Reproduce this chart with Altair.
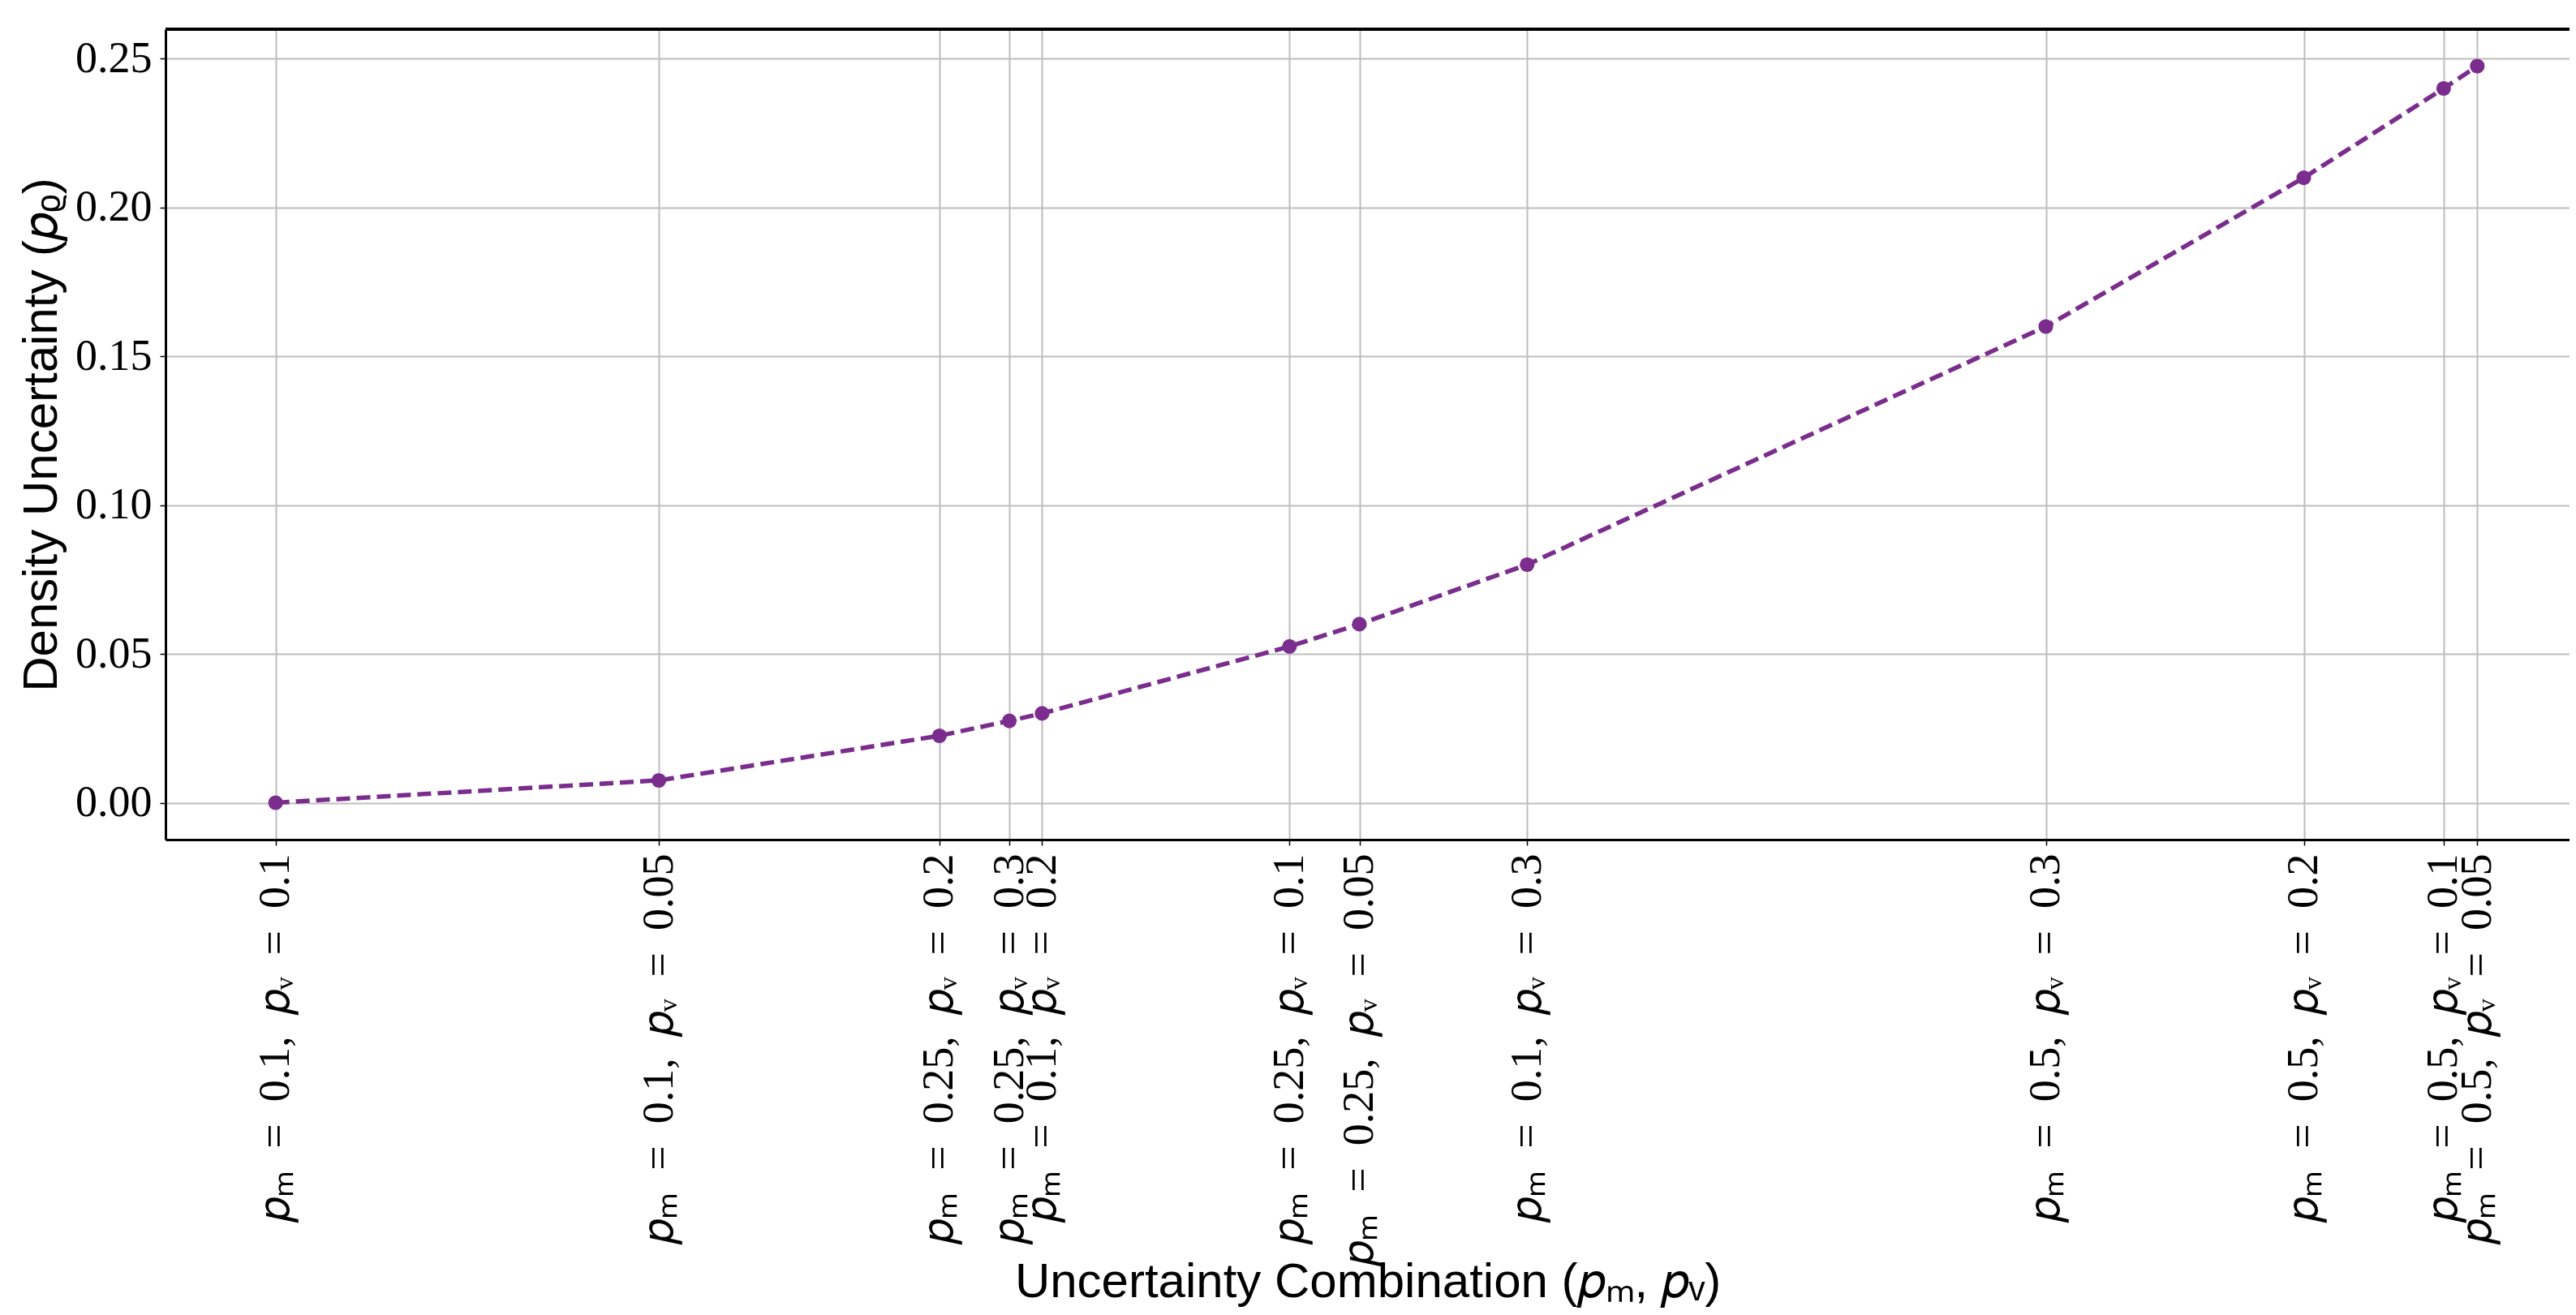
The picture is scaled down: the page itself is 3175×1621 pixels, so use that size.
import altair as alt
import pandas as pd

# Data
pm_vals = ["0.1", "0.1", "0.25", "0.25", "0.1", "0.25", "0.25", "0.1", "0.5", "0.5", "0.5", "0.5"]
pv_vals = ["0.1", "0.05", "0.2", "0.3", "0.2", "0.1", "0.05", "0.3", "0.3", "0.2", "0.1", "0.05"]
x_vals = [0.0, 0.0866, 0.15, 0.1658, 0.1732, 0.2291, 0.2449, 0.2828, 0.4, 0.4583, 0.4899, 0.4975]
p_rho = [0.0, 0.0075, 0.0225, 0.0275, 0.03, 0.0525, 0.06, 0.08, 0.16, 0.21, 0.24, 0.2475]
y_ticks = [0.0, 0.05, 0.10, 0.15, 0.20, 0.25]

labels = [f"𝑝ₘ\u2002=\u2002{m},\u2002𝑝ᵥ\u2002=\u2002{v}" for m, v in zip(pm_vals, pv_vals)]
df = pd.DataFrame({"x": x_vals, "y": p_rho, "label": labels})

expr = ""
for xv, lab in zip(x_vals, labels):
    expr += f"datum.value == {xv} ? '{lab}' : "
expr += "''"

PURPLE = "#7b2d8e"
GRID = "#bdbdbd"

x_enc = alt.X(
    "x:Q",
    scale=alt.Scale(domain=[-0.024875, 0.51834], nice=False, zero=False),
    axis=alt.Axis(
        values=x_vals,
        labelExpr=expr,
        labelAngle=270,
        labelAlign="right",
        labelBaseline="middle",
        labelOverlap=False,
        labelBound=False,
        labelFlush=False,
        labelLimit=0,
        labelPadding=10,
        title="Uncertainty Combination (𝑝ₘ,  𝑝ᵥ)",
        titleY=545,
        titleBaseline="middle",
    ),
)
y_enc = alt.Y(
    "y:Q",
    scale=alt.Scale(domain=[-0.0124, 0.2599], nice=False, zero=False),
    axis=alt.Axis(
        values=y_ticks,
        format=".2f",
        labelPadding=10,
        title="Density Uncertainty (𝑝ᵨ)",
        titlePadding=10,
    ),
)

base = alt.Chart(df).encode(x=x_enc, y=y_enc)
line = base.mark_line(color=PURPLE, strokeWidth=5.5, strokeDash=[17, 8])
pts = base.mark_circle(color=PURPLE, size=330, opacity=1)
top = alt.Chart(df).mark_rule(color="black", strokeWidth=3).encode(y=alt.value(0))

chart = (
    alt.layer(line, pts, top)
    .properties(
        width=2963,
        height=999,
        autosize=alt.AutoSizeParams(type="none"),
        padding={"left": 196, "top": 28, "right": 0, "bottom": 585},
        background="white",
    )
    .configure_view(stroke=None)
    .configure_axis(
        labelFont="Liberation Serif",
        labelFontSize=54,
        labelColor="black",
        titleFont="Liberation Sans",
        titleFontSize=60,
        titleFontWeight="normal",
        titleColor="black",
        grid=True,
        gridColor=GRID,
        gridWidth=2,
        domainColor="black",
        domainWidth=3,
        tickColor="black",
        tickWidth=1.5,
        tickSize=7,
    )
)

chart.save("out.html", embed_options={"renderer": "svg", "actions": False})
